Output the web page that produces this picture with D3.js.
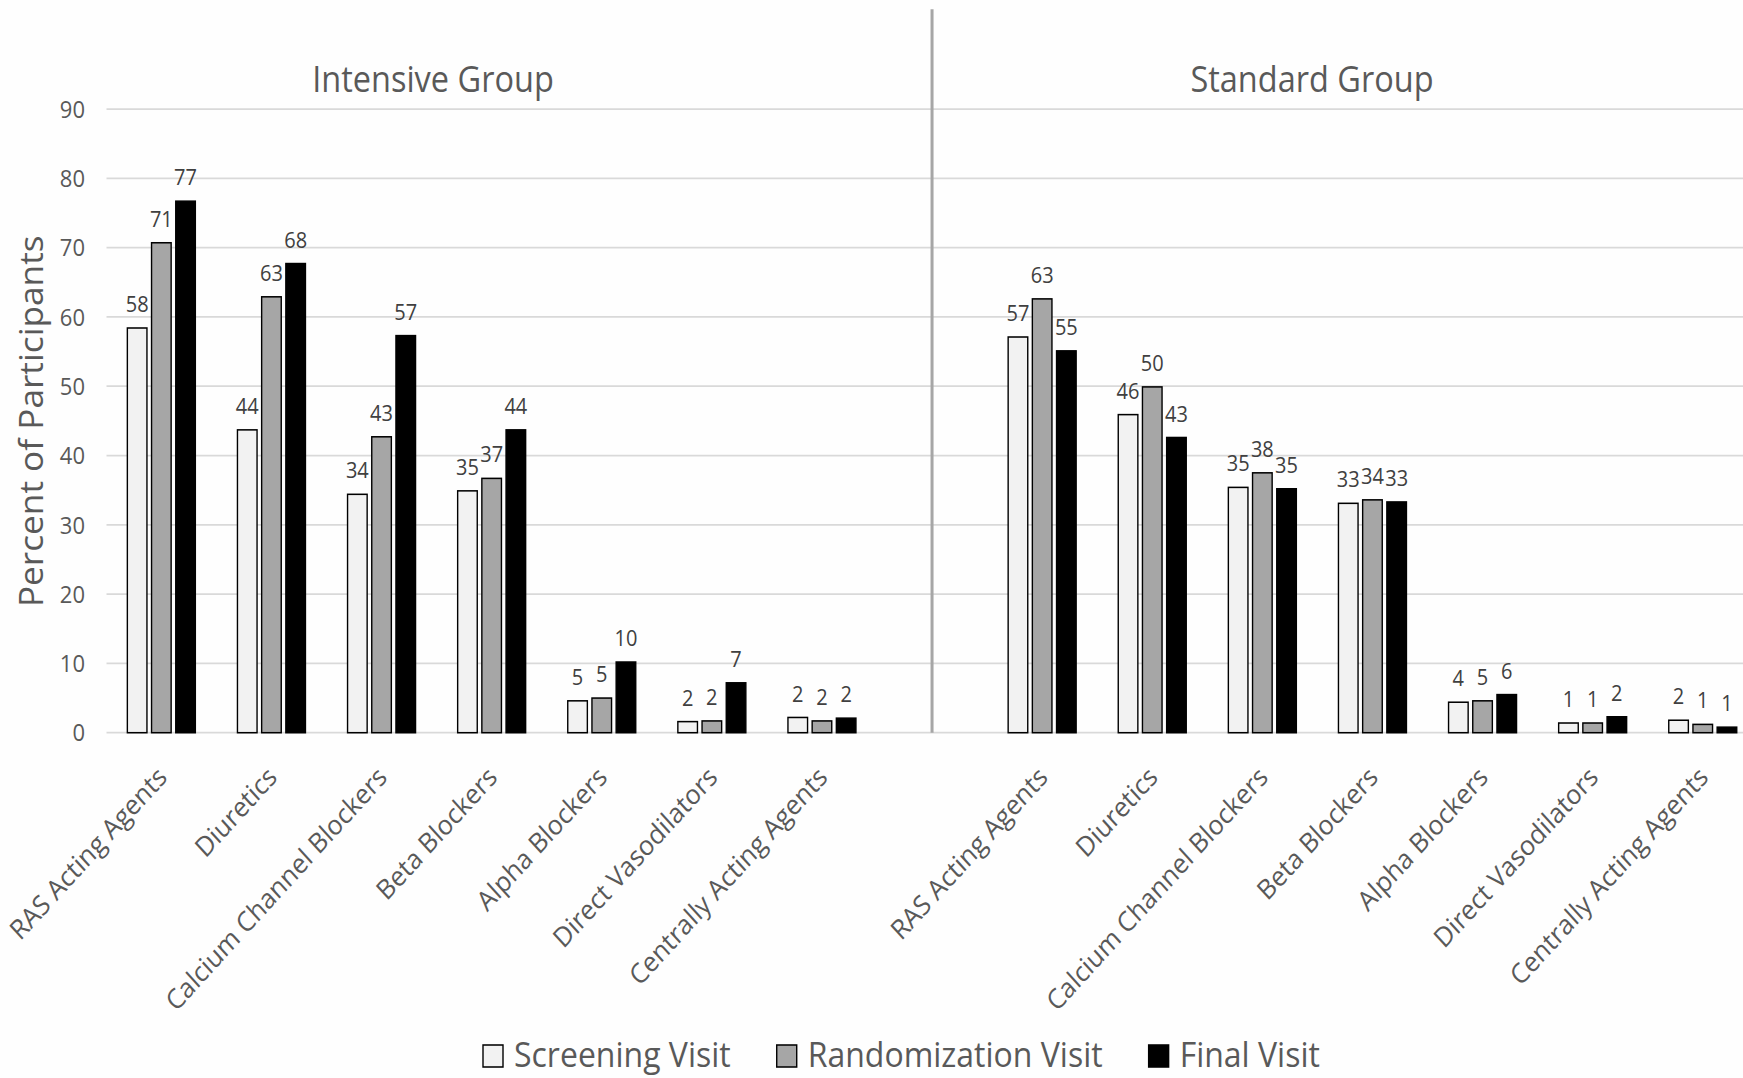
<!DOCTYPE html>
<html>
<head>
<meta charset="utf-8">
<script src="https://cdn.jsdelivr.net/npm/d3@7"></script>
<style>
  html, body { margin: 0; padding: 0; background: #fefefe; }
  svg { display: block; font-family: "Open Sans", "Noto Sans", sans-serif; }
</style>
</head>
<body>
<svg id="chart" width="1743" height="1078"></svg>
<script>
// ---- data ----
const groups = ["Intensive Group", "Standard Group"];
const categories = ["RAS Acting Agents", "Diuretics", "Calcium Channel Blockers", "Beta Blockers",
                    "Alpha Blockers", "Direct Vasodilators", "Centrally Acting Agents"];
const series = ["Screening Visit", "Randomization Visit", "Final Visit"];
const yTicks = [0, 10, 20, 30, 40, 50, 60, 70, 80, 90];
const yTitle = "Percent of Participants";

const intensiveScreening     = [58.4, 43.7, 34.4, 34.9, 4.6, 1.6, 2.2];
const intensiveRandomization = [70.7, 62.9, 42.7, 36.7, 5.0, 1.7, 1.7];
const intensiveFinal         = [76.7, 67.7, 57.3, 43.7, 10.2, 7.2, 2.1];
const standardScreening      = [57.1, 45.9, 35.4, 33.1, 4.4, 1.4, 1.8];
const standardRandomization  = [62.6, 49.9, 37.5, 33.6, 4.6, 1.4, 1.2];
const standardFinal          = [55.1, 42.6, 35.2, 33.3, 5.5, 2.3, 0.8];

const seriesFill = ["#f2f2f2", "#a6a6a6", "#000000"];

// ---- layout ----
const W = 1743, H = 1078;
const sy = 1.1;              // the picture is stretched vertically
const svg = d3.select("#chart");
svg.append("rect").attr("width", W).attr("height", H).attr("fill", "#fefefe");
const g = svg.append("g").attr("transform", `scale(1,${sy})`);

const groupValues = [
  [intensiveScreening, intensiveRandomization, intensiveFinal],
  [standardScreening, standardRandomization, standardFinal]
];

const keys = [];
groups.forEach((grp, gi) => {
  categories.forEach(c => keys.push(gi + "|" + c));
  if (gi === 0) keys.push("gap");
});

const x = d3.scaleBand().domain(keys).range([106.3, 106.3 + 15 * 110.1]).paddingInner(0).paddingOuter(0);
const xs = d3.scaleBand().domain(series).range([0, x.bandwidth()]).paddingInner(0.19).paddingOuter(0.87);
const y = d3.scaleLinear().domain([0, 90]).range([666.1, 99.1]);

// gridlines
g.append("g").selectAll("line").data(yTicks).join("line")
  .attr("x1", 106.5).attr("x2", W)
  .attr("y1", d => y(d)).attr("y2", d => y(d))
  .attr("stroke", "#d9d9d9").attr("stroke-width", 1.6);

// y tick labels
g.append("g").selectAll("text").data(yTicks).join("text")
  .attr("x", 85).attr("y", d => y(d)).attr("dy", "0.36em")
  .attr("text-anchor", "end").attr("font-size", 22).attr("fill", "#595959")
  .text(d => d);

// y title
g.append("text")
  .attr("transform", `translate(43,383) rotate(-90)`)
  .attr("text-anchor", "middle").attr("font-size", 32).attr("fill", "#595959")
  .text(yTitle);

// divider
const divX = x("gap") + x.bandwidth() / 2;
g.append("line").attr("x1", divX).attr("x2", divX).attr("y1", 8.5).attr("y2", y(0))
  .attr("stroke", "#a6a6a6").attr("stroke-width", 3);

// group titles
const titleX = [433, 1312];
g.append("g").selectAll("text").data(groups).join("text")
  .attr("x", (d, i) => titleX[i]).attr("y", 84)
  .attr("text-anchor", "middle").attr("font-size", 32.5).attr("fill", "#595959")
  .text(d => d);

// bars
const rows = [];
groups.forEach((grp, gi) => {
  categories.forEach((c, ci) => {
    series.forEach((s, si) => {
      rows.push({ key: gi + "|" + c, s, si, v: groupValues[gi][si][ci] });
    });
  });
});

g.append("g").selectAll("rect").data(rows).join("rect")
  .attr("x", d => x(d.key) + xs(d.s))
  .attr("y", d => y(d.v))
  .attr("width", xs.bandwidth())
  .attr("height", d => y(0) - y(d.v))
  .attr("fill", d => seriesFill[d.si])
  .attr("stroke", "#000").attr("stroke-width", 1.4);

// data labels
g.append("g").selectAll("text").data(rows).join("text")
  .attr("x", d => x(d.key) + xs(d.s) + xs.bandwidth() / 2)
  .attr("y", d => y(d.v) - 14.5)
  .attr("text-anchor", "middle").attr("font-size", 20).attr("fill", "#404040")
  .text(d => Math.round(d.v));

// category labels
g.append("g").selectAll("text").data(keys.filter(k => k !== "gap")).join("text")
  .attr("transform", d => `translate(${x(d) + x.bandwidth() / 2 + 7},708) rotate(-45)`)
  .attr("text-anchor", "end").attr("font-size", 25).attr("fill", "#595959")
  .text(d => d.split("|")[1]);

// legend
const lg = g.append("g");
let lx = 483;
series.forEach((s, si) => {
  lg.append("rect").attr("x", lx).attr("y", 950).attr("width", 20).attr("height", 20)
    .attr("fill", seriesFill[si]).attr("stroke", "#000").attr("stroke-width", 1.4);
  const t = lg.append("text").attr("x", lx + 31).attr("y", 970)
    .attr("font-size", 32).attr("fill", "#595959").text(s);
  lx += 31 + t.node().getComputedTextLength() + 46;
});
</script>
</body>
</html>
